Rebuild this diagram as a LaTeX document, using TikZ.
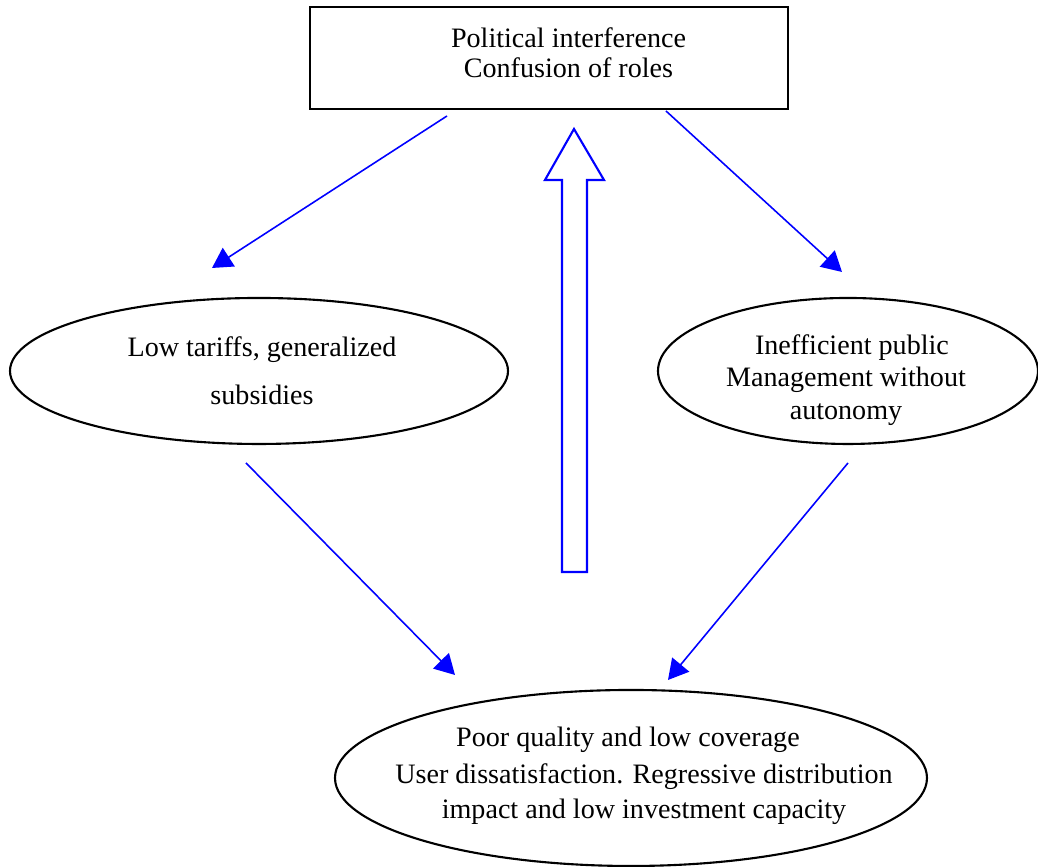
\documentclass[tikz,border=0pt]{standalone}
\usepackage{fontspec}
\setmainfont{Liberation Serif}
\usepackage{tikz}
\usetikzlibrary{shapes.geometric, arrows.meta}
\tikzstyle{box} = [rectangle, draw=black, line width=0.6pt, minimum width=4.78cm, minimum height=1.02cm]
\tikzstyle{oval} = [ellipse, draw=black, line width=0.6pt, inner sep=0pt]
\tikzstyle{txt} = [align=center, inner sep=0pt, font=\fontsize{8}{9}\selectfont]
\tikzstyle{arrow} = [blue, line width=0.45pt, -{Triangle[length=2mm,width=2.2mm]}]

\begin{document}
\begin{tikzpicture}
\useasboundingbox (0,0) rectangle (10.38,8.67);
\draw (5.49,8.09) node (pol) [box] {};
\draw (5.685,8.14) node (poltxt) [txt, font=\fontsize{8}{8.6}\selectfont] {Political interference\\Confusion of roles};
\draw (2.59,4.96) node (tariff) [oval, minimum width=4.98cm, minimum height=1.46cm] {};
\draw (2.62,4.96) node (tarifftxt) [txt] {Low tariffs, generalized\\[4.7pt]subsidies};
\draw (8.48,4.96) node (manage) [oval, minimum width=3.80cm, minimum height=1.46cm] {};
\draw (8.46,4.87) node (managetxt) [txt, font=\fontsize{8}{9.2}\selectfont] {\hspace*{0.12cm}Inefficient public\\Management without\\autonomy};
\draw (6.31,0.89) node (poor) [oval, minimum width=5.92cm, minimum height=1.76cm] {};
\draw (6.44,0.91) node (poortxt) [txt, font=\fontsize{8}{10}\selectfont] {Poor quality and low coverage\hspace*{0.32cm}\\[0.6pt]User dissatisfaction. Regressive distribution\\impact and low investment capacity};
% arrow ends
\coordinate (s1) at (4.47,7.51);
\coordinate (e1) at (2.12,5.99);
\coordinate (s2) at (6.66,7.56);
\coordinate (e2) at (8.42,5.95);
\coordinate (s3) at (2.46,4.04);
\coordinate (e3) at (4.55,1.92);
\coordinate (s4) at (8.48,4.04);
\coordinate (e4) at (6.68,1.87);
\draw[arrow] (s1)--(e1);
\draw[arrow] (s2)--(e2);
\draw[arrow] (s3)--(e3);
\draw[arrow] (s4)--(e4);
% hollow arrow up
\draw[blue, line width=0.6pt] (5.62,2.95)--(5.62,6.87)--(5.45,6.87)--(5.74,7.38)--(6.04,6.87)--(5.87,6.87)--(5.87,2.95)--cycle;
\end{tikzpicture}
\end{document}
